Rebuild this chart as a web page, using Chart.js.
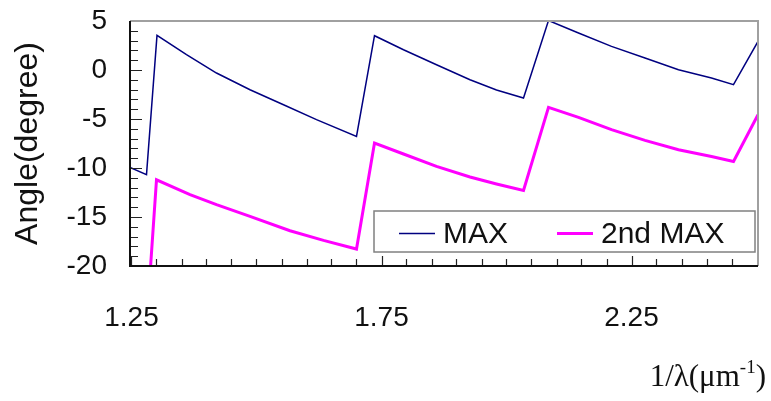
<!DOCTYPE html>
<html>
<head>
<meta charset="utf-8">
<script src="https://cdn.jsdelivr.net/npm/chart.js@4.4.1/dist/chart.umd.min.js"></script>
<style>
  html, body { margin: 0; padding: 0; background: #fff; }
  #wrap { width: 771px; height: 401px; }
</style>
</head>
<body>
<div id="wrap"><canvas id="c" width="771" height="401"></canvas></div>
<script>
// Diffraction peak angle versus wavenumber 1/λ
const seriesNames = ['MAX', '2nd MAX'];
const maxX = [1.247, 1.280, 1.301, 1.360, 1.420, 1.487, 1.554, 1.620, 1.700,
              1.736, 1.794, 1.860, 1.927, 1.980, 2.034,
              2.084, 2.144, 2.210, 2.277, 2.344, 2.410, 2.454, 2.503];
const maxY = [-9.94, -10.68, 3.53, 1.56, -0.31, -2.01, -3.54, -5.07, -6.78,
              3.50, 2.07, 0.54, -0.99, -2.04, -2.86,
              5.05, 3.78, 2.41, 1.22, 0.03, -0.82, -1.50, 2.92];
const secondX = [1.280, 1.300, 1.367, 1.420, 1.487, 1.567, 1.634, 1.700,
                 1.736, 1.794, 1.860, 1.927, 1.980, 2.034,
                 2.084, 2.144, 2.210, 2.277, 2.344, 2.410, 2.454, 2.503];
const secondY = [-26.1, -11.2, -12.72, -13.74, -14.94, -16.40, -17.39, -18.27,
                 -7.45, -8.57, -9.84, -10.92, -11.63, -12.29,
                 -3.82, -4.84, -6.09, -7.18, -8.13, -8.82, -9.33, -4.56];
const xTickValues = [1.25, 1.75, 2.25];
const yTickValues = [-20, -15, -10, -5, 0, 5];
const seriesColors = ['#000080', '#ff00ff'];
const seriesWidths = [1.5, 3];

const toPoints = (xs, ys) => xs.map((x, i) => ({ x: x, y: ys[i] }));

const SANS = '"Liberation Sans", Arial, sans-serif';
const SERIF = '"Liberation Serif", "Times New Roman", serif';

// Frame, inward tick marks, legend box and the x-axis caption
const decorations = {
  id: 'decorations',
  afterDatasetsDraw(chart) {
    const { ctx, chartArea: a, scales } = chart;
    const xs = scales.x, ys = scales.y;
    ctx.save();

    // inward tick marks
    ctx.strokeStyle = '#222';
    ctx.lineWidth = 1.2;
    ctx.beginPath();
    for (let v = -20; v <= 5; v += 1) {
      const y = Math.round(ys.getPixelForValue(v)) + 0.5;
      const len = (v % 5 === 0) ? 12 : 8;
      ctx.moveTo(a.left, y);
      ctx.lineTo(a.left + len, y);
    }
    for (let k = 0; k <= 25; k++) {
      const v = 1.25 + k * 0.05;
      const x = Math.round(xs.getPixelForValue(v)) + 0.5;
      if (x > a.right - 1) break;
      const len = (k % 10 === 0) ? 10 : 7;
      ctx.moveTo(x, a.bottom);
      ctx.lineTo(x, a.bottom - len);
    }
    ctx.stroke();

    // frame: light top/right, dark axes
    ctx.lineWidth = 2;
    ctx.strokeStyle = '#a0a0a0';
    ctx.beginPath();
    ctx.moveTo(a.left, a.top);
    ctx.lineTo(a.right, a.top);
    ctx.lineTo(a.right, a.bottom);
    ctx.stroke();
    ctx.strokeStyle = '#111';
    ctx.beginPath();
    ctx.moveTo(a.left, a.top);
    ctx.lineTo(a.left, a.bottom);
    ctx.lineTo(a.right, a.bottom);
    ctx.stroke();

    // legend
    const bw = 381, bh = 41;
    const bx = a.right - 3 - bw, by = a.bottom - 14 - bh;
    ctx.fillStyle = '#fff';
    ctx.fillRect(bx, by, bw, bh);
    ctx.strokeStyle = '#808080';
    ctx.lineWidth = 1.5;
    ctx.strokeRect(bx, by, bw, bh);
    const cy = by + bh / 2 + 2;
    const entryX = [bx + 25, bx + 183];
    ctx.font = '30px ' + SANS;
    ctx.textBaseline = 'middle';
    ctx.textAlign = 'left';
    chart.data.datasets.forEach((ds, i) => {
      ctx.strokeStyle = ds.borderColor;
      ctx.lineWidth = ds.borderWidth;
      ctx.beginPath();
      ctx.moveTo(entryX[i], cy);
      ctx.lineTo(entryX[i] + 36, cy);
      ctx.stroke();
      ctx.fillStyle = '#111';
      ctx.fillText(ds.label, entryX[i] + 44, cy + 1);
    });

    // x-axis caption 1/λ(μm⁻¹), right aligned
    ctx.fillStyle = '#111';
    ctx.textBaseline = 'alphabetic';
    ctx.textAlign = 'left';
    const base = 386;
    const mainFont = '31px ' + SERIF, supFont = '19px ' + SERIF;
    ctx.font = mainFont;
    const w1 = ctx.measureText('1/λ(μm').width;
    const w3 = ctx.measureText(')').width;
    ctx.font = supFont;
    const w2 = ctx.measureText('-1').width;
    let x0 = 766 - (w1 + w2 + w3);
    ctx.font = mainFont;
    ctx.fillText('1/λ(μm', x0, base);
    ctx.font = supFont;
    ctx.fillText('-1', x0 + w1, base - 13);
    ctx.font = mainFont;
    ctx.fillText(')', x0 + w1 + w2, base);

    ctx.restore();
  }
};

new Chart(document.getElementById('c'), {
  type: 'line',
  data: {
    datasets: [
      { label: seriesNames[0], data: toPoints(maxX, maxY),
        borderColor: seriesColors[0], borderWidth: seriesWidths[0] },
      { label: seriesNames[1], data: toPoints(secondX, secondY),
        borderColor: seriesColors[1], borderWidth: seriesWidths[1] }
    ]
  },
  options: {
    responsive: false,
    animation: false,
    layout: { padding: { top: 21, right: 13, left: 0, bottom: 0 } },
    elements: {
      point: { radius: 0, hoverRadius: 0 },
      line: { tension: 0, fill: false, borderCapStyle: 'butt', borderJoinStyle: 'miter' }
    },
    datasets: { line: { clip: 0 } },
    plugins: { legend: { display: false }, tooltip: { enabled: false } },
    scales: {
      x: {
        type: 'linear',
        min: 1.247,
        max: 2.503,
        afterBuildTicks: (s) => { s.ticks = xTickValues.map(v => ({ value: v })); },
        afterFit: (s) => { s.height = 135; s.paddingLeft = 0; s.paddingRight = 0; },
        grid: { display: false, drawTicks: false },
        border: { display: false },
        ticks: {
          padding: 35,
          color: '#111',
          font: { family: SANS, size: 28 },
          maxRotation: 0,
          callback: (v) => v.toFixed(2)
        }
      },
      y: {
        type: 'linear',
        min: -20,
        max: 5,
        afterBuildTicks: (s) => { s.ticks = yTickValues.map(v => ({ value: v })); },
        afterFit: (s) => { s.width = 130; s.paddingTop = 0; s.paddingBottom = 0; },
        grid: { display: false, drawTicks: false },
        border: { display: false },
        ticks: {
          padding: 23,
          color: '#111',
          font: { family: SANS, size: 28 },
          callback: (v) => String(v)
        },
        title: {
          display: true,
          text: 'Angle(degree)',
          color: '#111',
          font: { family: SANS, size: 32 },
          padding: { top: 9, bottom: 0 }
        }
      }
    }
  },
  plugins: [decorations]
});
</script>
</body>
</html>
